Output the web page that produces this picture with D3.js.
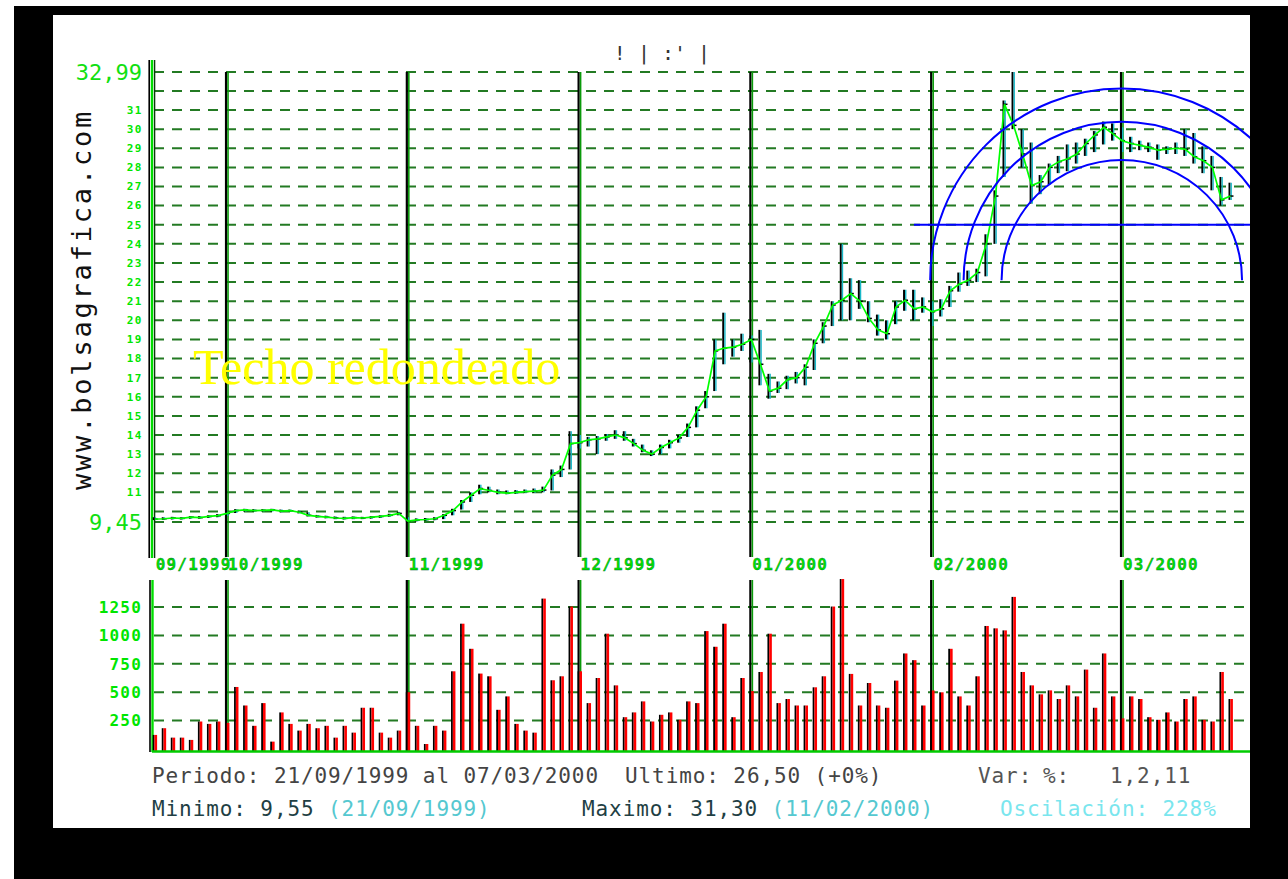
<!DOCTYPE html>
<html>
<head>
<meta charset="utf-8">
<script src="https://cdn.jsdelivr.net/npm/d3@7"></script>
<style>
 body { margin: 0; background: #fff; }
 svg { display: block; }
</style>
</head>
<body>
<svg id="graph"></svg>
<script>
// ---- datos ----
const monthLabels = ["09/1999", "10/1999", "11/1999", "12/1999", "01/2000", "02/2000", "03/2000"];
const monthStart = [0, 8, 28, 47, 66, 86, 107];

const closes = [9.60, 9.62, 9.66, 9.64, 9.70, 9.68, 9.74, 9.78, 9.90, 10.05,
 10.08, 10.05, 10.06, 10.08, 10.02, 10.04, 9.96, 9.80, 9.74, 9.70,
 9.66, 9.64, 9.68, 9.66, 9.70, 9.74, 9.80, 9.90, 9.50, 9.56,
 9.58, 9.62, 9.80, 10.05, 10.50, 10.85, 11.20, 11.10, 11.00, 10.96,
 11.00, 11.04, 11.06, 11.12, 11.90, 12.20, 13.55, 13.60, 13.75, 13.80,
 13.90, 14.00, 13.85, 13.55, 13.20, 13.00, 13.35, 13.60, 13.85, 14.40,
 15.30, 16.00, 18.40, 18.55, 18.60, 18.75, 19.00, 17.70, 16.30, 16.45,
 16.90, 17.00, 17.55, 18.80, 19.70, 20.80, 21.05, 21.40, 21.00, 20.10,
 19.50, 19.30, 20.70, 21.05, 20.60, 20.70, 20.45, 20.60, 21.55, 21.90,
 22.10, 22.50, 24.00, 26.50, 31.30, 30.20, 28.70, 27.05, 27.25, 28.00,
 28.30, 28.45, 28.70, 29.25, 29.70, 30.10, 29.75, 29.40, 29.25, 29.15,
 29.05, 28.90, 28.95, 29.00, 28.95, 28.55, 28.35, 28.00, 26.30, 26.50];

const highs = [9.70, 9.70, 9.72, 9.70, 9.76, 9.76, 9.80, 9.86, 9.98, 10.12,
 10.14, 10.12, 10.12, 10.14, 10.10, 10.10, 10.04, 9.96, 9.82, 9.78,
 9.74, 9.72, 9.74, 9.72, 9.76, 9.80, 9.88, 9.98, 9.70, 9.64,
 9.66, 9.70, 9.86, 10.14, 10.60, 11.00, 11.40, 11.30, 11.15, 11.10,
 11.12, 11.15, 11.20, 11.30, 12.20, 12.40, 14.20, 14.00, 13.90, 13.95,
 14.05, 14.25, 14.20, 13.80, 13.50, 13.20, 13.50, 13.75, 14.00, 14.60,
 15.50, 16.30, 19.00, 20.40, 19.00, 19.30, 19.20, 19.50, 17.20, 16.80,
 17.10, 17.30, 17.70, 19.00, 19.90, 21.00, 24.00, 22.20, 22.10, 21.00,
 20.30, 20.00, 21.00, 21.60, 21.60, 21.20, 21.00, 21.10, 21.80, 22.50,
 22.60, 22.70, 24.50, 26.80, 31.50, 32.99, 30.00, 29.30, 27.60, 28.20,
 28.60, 29.20, 29.30, 29.50, 29.90, 30.40, 30.30, 30.10, 29.60, 29.40,
 29.30, 29.20, 29.10, 29.30, 30.00, 29.80, 29.10, 28.60, 27.50, 27.20];

const lows = [9.55, 9.56, 9.58, 9.58, 9.62, 9.62, 9.66, 9.70, 9.78, 9.92,
 10.00, 9.98, 10.00, 10.00, 9.96, 9.98, 9.90, 9.74, 9.68, 9.64,
 9.60, 9.58, 9.60, 9.60, 9.62, 9.66, 9.72, 9.80, 9.46, 9.48,
 9.50, 9.54, 9.60, 9.80, 10.10, 10.50, 10.90, 11.00, 10.90, 10.90,
 10.92, 10.96, 10.98, 11.00, 11.10, 11.80, 12.20, 13.30, 13.40, 13.00,
 13.70, 13.80, 13.70, 13.40, 13.10, 12.90, 13.00, 13.30, 13.60, 13.90,
 14.40, 15.40, 16.30, 17.70, 18.10, 18.40, 17.80, 16.60, 15.90, 16.20,
 16.40, 16.70, 16.60, 17.40, 18.80, 19.70, 20.00, 20.00, 20.60, 19.90,
 19.20, 19.00, 19.80, 20.50, 20.00, 20.40, 19.70, 20.20, 20.70, 21.50,
 21.80, 22.00, 22.30, 24.00, 27.50, 30.00, 28.00, 26.10, 26.60, 27.10,
 27.70, 27.80, 28.20, 28.60, 28.80, 29.20, 29.40, 28.80, 28.80, 28.90,
 28.80, 28.40, 28.70, 28.70, 28.60, 28.20, 27.70, 26.80, 26.00, 26.30];

const volumes = [124, 183, 100, 100, 80, 242, 221, 242, 230, 546,
 383, 204, 404, 65, 322, 221, 162, 221, 183, 204,
 100, 204, 144, 363, 363, 144, 100, 162, 500, 204,
 44, 204, 162, 684, 1103, 882, 664, 640, 345, 463,
 221, 162, 144, 1324, 605, 640, 1254, 684, 404, 625,
 1015, 560, 280, 322, 419, 242, 301, 322, 257, 419,
 404, 1038, 900, 1103, 280, 625, 510, 678, 1015, 404,
 440, 383, 383, 543, 640, 1254, 1496, 661, 383, 581,
 383, 363, 602, 841, 782, 383, 516, 499, 882, 463,
 383, 640, 1083, 1062, 1044, 1339, 678, 560, 481, 516,
 440, 560, 463, 699, 363, 841, 463, 270, 463, 440,
 280, 257, 322, 242, 440, 463, 257, 242, 678, 440];

const priceTicks = [11, 12, 13, 14, 15, 16, 17, 18, 19, 20, 21, 22, 23, 24, 25, 26, 27, 28, 29, 30, 31];
const priceGrid = [9.45, 10, 11, 12, 13, 14, 15, 16, 17, 18, 19, 20, 21, 22, 23, 24, 25, 26, 27, 28, 29, 30, 31, 32, 32.99];
const priceMin = 9.45, priceMax = 32.99;
const volumeTicks = [250, 500, 750, 1000, 1250];

// figura dibujada: techo redondeado (arcos) y soporte
const arcCenterDay = 107.2, arcCenterPrice = 22.1;
const arcRadiiDays = [13.3, 17.5, 21.2];
const supportPrice = 25, supportFromDay = 84.2;

// ---- dibujo ----
let width = 1288, height = 879;
let svg = d3.select("#graph").attr("width", width).attr("height", height);

// marco negro y area blanca
svg.append("rect").attr("x", 14).attr("y", 6).attr("width", width - 14).attr("height", height - 6).attr("fill", "#000");
svg.append("rect").attr("x", 53).attr("y", 15).attr("width", 1197).attr("height", 813).attr("fill", "#fff");

svg.append("defs").append("clipPath").attr("id", "plotclip")
 .append("rect").attr("x", 53).attr("y", 15).attr("width", 1197).attr("height", 813);

let plotLeft = 152, plotRight = 1250;

let scaleX = d3.scaleLinear().domain([0, 119]).range([152.7, 1228.5]);
let scaleY = d3.scaleLinear().domain([priceMin, priceMax]).range([522, 72]);
let scaleV = d3.scaleLinear().domain([0, 1250]).range([749, 607]);

let mono = "'DejaVu Sans Mono', 'Liberation Mono', monospace";
let gridColor = "#237a23";

// lineas de rejilla del precio
svg.append("g").selectAll("line")
 .data(priceGrid).enter().append("line")
 .attr("x1", plotLeft + 2).attr("x2", plotRight)
 .attr("y1", d => scaleY(d)).attr("y2", d => scaleY(d))
 .attr("stroke", gridColor).attr("stroke-width", 2)
 .attr("stroke-dasharray", "10,8");

// rejilla del volumen
svg.append("g").selectAll("line")
 .data(volumeTicks).enter().append("line")
 .attr("x1", plotLeft + 2).attr("x2", plotRight)
 .attr("y1", d => scaleV(d)).attr("y2", d => scaleV(d))
 .attr("stroke", gridColor).attr("stroke-width", 2)
 .attr("stroke-dasharray", "10,8");

// separadores de mes (precio y volumen)
let months = svg.append("g");
monthStart.forEach(function(m, k) {
 if (k == 0) return;
 let x = scaleX(m) + 1;
 [[72, 557], [580, 751]].forEach(function(seg) {
 months.append("line").attr("x1", x).attr("x2", x).attr("y1", seg[0]).attr("y2", seg[1])
 .attr("stroke", "#000").attr("stroke-width", 2.2);
 months.append("line").attr("x1", x + 2).attr("x2", x + 2).attr("y1", seg[0]).attr("y2", seg[1])
 .attr("stroke", "#0a9a0a").attr("stroke-width", 1.6);
 });
});

// eje vertical del precio
svg.append("line").attr("x1", 149.2).attr("x2", 149.2).attr("y1", 60).attr("y2", 558).attr("stroke", "#000").attr("stroke-width", 1.6);
svg.append("line").attr("x1", 152).attr("x2", 152).attr("y1", 60).attr("y2", 558).attr("stroke", "#00dd00").attr("stroke-width", 2.4);
svg.append("line").attr("x1", 154.6).attr("x2", 154.6).attr("y1", 60).attr("y2", 558).attr("stroke", "#0a3a0a").attr("stroke-width", 1.4);

// eje del volumen
svg.append("line").attr("x1", 150).attr("x2", 150).attr("y1", 580).attr("y2", 752).attr("stroke", "#000").attr("stroke-width", 1.6);
svg.append("line").attr("x1", 152.5).attr("x2", 152.5).attr("y1", 580).attr("y2", 752).attr("stroke", "#00dd00").attr("stroke-width", 2.4);

// barras de precio (maximo-minimo)
let bars = svg.append("g");
bars.selectAll(".hl").data(closes).enter().append("line")
 .attr("x1", (d, i) => scaleX(i) + 1).attr("x2", (d, i) => scaleX(i) + 1)
 .attr("y1", (d, i) => scaleY(highs[i])).attr("y2", (d, i) => scaleY(lows[i]))
 .attr("stroke", "#000").attr("stroke-width", 2);
bars.selectAll(".sh").data(closes).enter().append("line")
 .attr("x1", (d, i) => scaleX(i) + 2.7).attr("x2", (d, i) => scaleX(i) + 2.7)
 .attr("y1", (d, i) => scaleY(highs[i])).attr("y2", (d, i) => scaleY(lows[i]))
 .attr("stroke", "#19b8c8").attr("stroke-width", 1.4);
bars.selectAll(".cl").data(closes).enter().append("line")
 .attr("x1", (d, i) => scaleX(i) + 1).attr("x2", (d, i) => scaleX(i) + 5)
 .attr("y1", d => scaleY(d)).attr("y2", d => scaleY(d))
 .attr("stroke", "#000").attr("stroke-width", 1.5);

// linea de cierres
let closeLine = d3.line().x((d, i) => scaleX(i) + 2).y(d => scaleY(d));
svg.append("path").datum(closes).attr("d", closeLine)
 .attr("fill", "none").attr("stroke", "#00ff00").attr("stroke-width", 1.7);

// techo redondeado: arcos concentricos y soporte
let fig = svg.append("g").attr("clip-path", "url(#plotclip)");
let cx = scaleX(arcCenterDay), cy = scaleY(arcCenterPrice);
arcRadiiDays.forEach(function(rd) {
 let r = scaleX(arcCenterDay + rd) - cx;
 let p = d3.path();
 p.moveTo(cx - r, cy);
 p.arc(cx, cy, r, Math.PI, 2 * Math.PI);
 fig.append("path").attr("d", p.toString())
 .attr("fill", "none").attr("stroke", "#0000ff").attr("stroke-width", 2);
});
fig.append("line")
 .attr("x1", scaleX(supportFromDay)).attr("x2", plotRight)
 .attr("y1", scaleY(supportPrice)).attr("y2", scaleY(supportPrice))
 .attr("stroke", "#0000ff").attr("stroke-width", 2);

svg.append("text").attr("x", 193).attr("y", 384)
 .attr("font-family", "'Liberation Serif', 'DejaVu Serif', serif")
 .attr("font-size", 50).attr("fill", "#ffff00")
 .text("Techo redondeado");

// volumen: sombra negra + barra roja
let vol = svg.append("g");
vol.selectAll(".vb").data(volumes).enter().append("rect")
 .attr("x", (d, i) => scaleX(i)).attr("width", 1.8)
 .attr("y", d => scaleV(d)).attr("height", d => scaleV(0) - scaleV(d) + 2)
 .attr("fill", "#000");
vol.selectAll(".vr").data(volumes).enter().append("rect")
 .attr("x", (d, i) => scaleX(i) + 1.8).attr("width", 2.6)
 .attr("y", d => scaleV(d)).attr("height", d => scaleV(0) - scaleV(d) + 2)
 .attr("fill", "#ff0000");

// linea base del volumen
svg.append("line").attr("x1", plotLeft).attr("x2", plotRight).attr("y1", 751.5).attr("y2", 751.5)
 .attr("stroke", "#00cc00").attr("stroke-width", 2.5);

// etiquetas eje precio
svg.append("g").selectAll("text").data(priceTicks).enter().append("text")
 .attr("x", 143).attr("y", d => scaleY(d)).attr("dy", "0.35em")
 .attr("text-anchor", "end").attr("font-family", mono).attr("font-weight", "bold")
 .attr("font-size", 11).attr("letter-spacing", 1.5).attr("fill", "#00e600")
 .text(d => d);
[priceMax, priceMin].forEach(function(v) {
 svg.append("text").attr("x", 142).attr("y", scaleY(v)).attr("dy", "0.36em")
 .attr("text-anchor", "end").attr("font-family", mono).attr("font-size", 22)
 .attr("fill", "#11e011").text(v.toFixed(2).replace(".", ","));
});

// etiquetas eje volumen
svg.append("g").selectAll("text").data(volumeTicks).enter().append("text")
 .attr("x", 142).attr("y", d => scaleV(d)).attr("dy", "0.36em")
 .attr("text-anchor", "end").attr("font-family", mono).attr("font-weight", "bold")
 .attr("font-size", 16).attr("letter-spacing", 1.2).attr("fill", "#00e600")
 .text(d => d);

// etiquetas de mes
svg.append("g").selectAll("text").data(monthLabels).enter().append("text")
 .attr("x", (d, i) => scaleX(monthStart[i]) + 3).attr("y", 570)
 .attr("font-family", mono).attr("font-weight", "bold").attr("font-size", 16)
 .attr("letter-spacing", 1.2).attr("fill", "#00e000")
 .attr("stroke", "#063").attr("stroke-width", 0.3)
 .text(d => d);

// texto vertical
svg.append("text").attr("transform", "translate(91,490) rotate(-90)")
 .attr("font-family", mono).attr("font-size", 27).attr("letter-spacing", 2.8)
 .attr("fill", "#111").text("www.bolsagrafica.com");

// titulo
svg.append("text").attr("x", 662).attr("y", 60).attr("text-anchor", "middle")
 .attr("font-family", mono).attr("font-size", 20).attr("fill", "#333")
 .text("! | :' |");

// pie: resumen
let foot = svg.append("g").attr("font-family", mono).attr("font-size", 21).attr("letter-spacing", 0.9);
foot.append("text").attr("x", 152).attr("y", 783).attr("fill", "#444").text("Periodo: 21/09/1999 al 07/03/2000");
foot.append("text").attr("x", 625).attr("y", 783).attr("fill", "#444").text("Ultimo: 26,50 (+0%)");
foot.append("text").attr("x", 978).attr("y", 783).attr("fill", "#555").text("Var:");
foot.append("text").attr("x", 1043).attr("y", 783).attr("fill", "#555").text("%:");
foot.append("text").attr("x", 1110).attr("y", 783).attr("fill", "#555").text("1,2,11");

let t1 = foot.append("text").attr("x", 152).attr("y", 816);
t1.append("tspan").attr("fill", "#1f3f44").text("Minimo: 9,55 ");
t1.append("tspan").attr("fill", "#55c8d0").text("(21/09/1999)");
let t2 = foot.append("text").attr("x", 582).attr("y", 816);
t2.append("tspan").attr("fill", "#1f3f44").text("Maximo: 31,30 ");
t2.append("tspan").attr("fill", "#55c8d0").text("(11/02/2000)");
foot.append("text").attr("x", 1000).attr("y", 816).attr("fill", "#7ae6ee").text("Oscilación: 228%");
</script>
</body>
</html>
